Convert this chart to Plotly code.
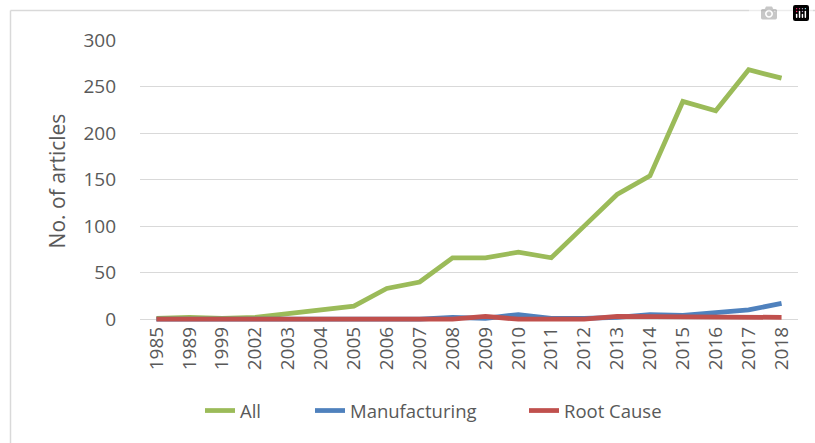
import plotly.graph_objects as go

years = ["1985", "1989", "1999", "2002", "2003", "2004", "2005", "2006", "2007", "2008",
         "2009", "2010", "2011", "2012", "2013", "2014", "2015", "2016", "2017", "2018"]
all_articles = [1, 2, 1, 2, 6, 10, 14, 33, 40, 66, 66, 72, 66, 100, 134, 154, 234, 224, 268, 259]
manufacturing = [0, 0, 0, 0, 0, 0, 0, 0, 0, 2, 1, 5, 1, 1, 2, 5, 4, 7, 10, 17]
root_cause = [0, 0, 0, 0, 0, 0, 0, 0, 0, 0, 3, 0, 0, 0, 3, 3, 3, 3, 3, 2]
y_ticks = [0, 50, 100, 150, 200, 250, 300]

FONT = "Open Sans"
GREY = "#595959"

# the body margin is removed below, so figure pixels == window pixels
W, H = 815, 443

L, R = 140, 798
Y300, Y0 = 40, 319
ppu = (Y0 - Y300) / 300.0
ymin = -3
bottom_px = Y0 + (-ymin) * ppu

fig = go.Figure()
series = [("All", all_articles, "#9BBB59", "legend", 200),
          ("Manufacturing", manufacturing, "#4F81BD", "legend2", 310),
          ("Root Cause", root_cause, "#C0504D", "legend3", 524)]
legends = {}
for name, vals, col, leg, lx in series:
    fig.add_trace(go.Scatter(x=years, y=vals, name=name, mode="lines",
                             legend=leg,
                             line=dict(color=col, width=4.75)))
    legends[leg] = dict(orientation="h", xref="container", yref="container",
                        x=lx / W, xanchor="left",
                        y=1 - 411 / H, yanchor="middle",
                        font=dict(size=18.5, color=GREY),
                        bgcolor="rgba(0,0,0,0)")

def px_to_paper_x(px):
    return (px - L) / (R - L)

def px_to_paper_y(py):
    return (bottom_px - py) / (bottom_px - Y300)

fig.update_layout(
    width=W, height=H,
    margin=dict(l=L, r=W - R, t=Y300, b=H - bottom_px, pad=0, autoexpand=False),
    paper_bgcolor="white", plot_bgcolor="white",
    font=dict(family=FONT, color=GREY),
    showlegend=True,
    xaxis=dict(type="category", range=[-0.5, len(years) - 0.5],
               showgrid=False, zeroline=False, showline=False,
               tickangle=-90, tickfont=dict(size=19, color=GREY),
               ticks="", fixedrange=True, automargin=False),
    yaxis=dict(range=[ymin, 300], tickvals=y_ticks, showgrid=True,
               gridcolor="#D9D9D9", gridwidth=1, zeroline=False, showline=False,
               tickfont=dict(size=19, color=GREY), ticks="",
               ticklabelstandoff=23,
               title=dict(text="No. of articles", font=dict(size=21, color=GREY),
                          standoff=12),
               fixedrange=True, automargin=False),
    shapes=[
        dict(type="line", xref="paper", yref="paper",
             x0=px_to_paper_x(10.5), x1=px_to_paper_x(10.5),
             y0=px_to_paper_y(10.5), y1=px_to_paper_y(H),
             line=dict(color="#D9D9D9", width=1.5)),
        dict(type="line", xref="paper", yref="paper",
             x0=px_to_paper_x(10.5), x1=px_to_paper_x(W),
             y0=px_to_paper_y(10.5), y1=px_to_paper_y(10.5),
             line=dict(color="#D9D9D9", width=1.5)),
    ],
    **legends,
)

fig.write_html(
    "out.html",
    post_script="document.body.style.margin='0';document.body.style.overflow='hidden';",
)
